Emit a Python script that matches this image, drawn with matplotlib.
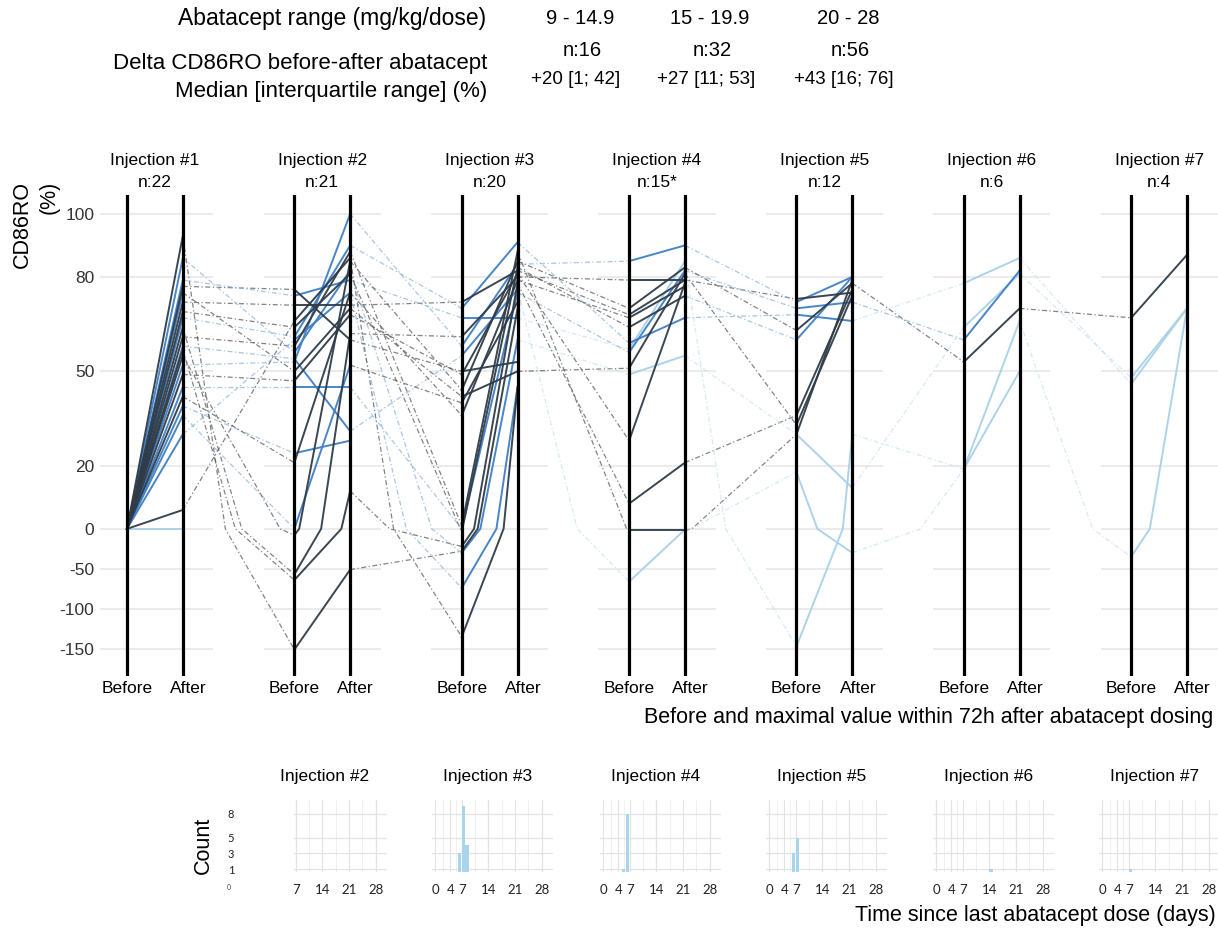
import numpy as np
import matplotlib.pyplot as plt

plt.rcParams['font.family'] = ['Liberation Sans', 'DejaVu Sans']

# header table
dose_ranges = ['9 - 14.9', '15 - 19.9', '20 - 28']
group_n = ['n:16', 'n:32', 'n:56']
group_delta = ['+20 [1; 42]', '+27 [11; 53]', '+43 [16; 76]']

# groups: 0 = 9-14.9, 1 = 15-19.9, 2 = 20-28 mg/kg/dose
inj_labels = ['Injection #1', 'Injection #2', 'Injection #3', 'Injection #4',
              'Injection #5', 'Injection #6', 'Injection #7']
inj_n = ['n:22', 'n:21', 'n:20', 'n:15*', 'n:12', 'n:6', 'n:4']

inj1_before = [0, 0, 0, 0, 0, 0, 0, 0, 0, 0, 0, 0, 0, 0, 0, 0, 0, 0, 0, 0, 0, 0]
inj1_after = [93, 86, 79, 77, 75, 72, 69, 67, 64, 61, 58, 57, 55, 52, 49, 45, 42, 39, 36, 30, 6, 0]
inj1_group = [2, 1, 1, 2, 1, 2, 2, 1, 2, 2, 1, 2, 2, 1, 2, 1, 2, 1, 1, 1, 2, 0]

inj2_before = [53, 61, 58, 76, 74, 71, 64, 47, 45, 54, 24, 21, 0, -8, -57, -64, -151, 56, 66, 50, 60]
inj2_after = [100, 90, 88, 60, 79, 71, 81, 68, 45, 31, 28, 75, 52, 85, 62, 12, -51, 82, 86, 70, 75]
inj2_group = [1, 1, 2, 2, 1, 2, 2, 2, 1, 1, 1, 2, 1, 2, 2, 2, 2, 1, 2, 2, 1]
inj2_prev = [13, 7, 9, 3, 2, 5, 6, 14, 15, 10, 17, 16, 18, 12, 8, 11, 0, 1, 20, 4, 19]

inj3_before = [70, 72, 67, 61, 58, 55, 50, 49, 42, 36, 1, 0, -1, -22, -28, -30, -74, -135, 44, 40]
inj3_after = [91, 82, 67, 80, 84, 76, 53, 81, 50, 79, 88, 75, 83, 78, 70, 60, 45, 45, 85, 72]
inj3_group = [1, 2, 1, 2, 1, 1, 2, 2, 2, 2, 2, 1, 2, 2, 2, 1, 1, 2, 2, 2]
inj3_prev = [1, 5, 4, 14, 0, 9, 3, 7, 19, 11, 2, 8, 6, 15, 16, 17, 20, 18, 13, 12]

inj4_before = [85, 79, 68, 67, 64, 59, 57, 56, 51, 49, 28, 8, -2, -66, 70]
inj4_after = [90, 79, 79, 77, 74, 67, 85, 82, 81, 55, 78, 21, -2, -1, 83]
inj4_group = [1, 2, 2, 2, 2, 1, 0, 1, 2, 0, 2, 2, 2, 0, 2]
inj4_prev = [4, 3, 1, 9, 12, 0, 2, 11, 8, 15, 7, 13, 10, 5, 18]

inj5_before = [73, 72, 70, 68, 63, 60, 36, 30, 30, 18, -147, 33]
inj5_after = [75, 80, 72, 66, 78, 80, 76, 79, 13, -30, 30, 74]
inj5_group = [2, 1, 1, 1, 2, 1, 2, 2, 0, 0, 0, 2]
inj5_prev = [1, 0, 7, 5, 14, 4, 11, 12, 9, 13, 6, 8]

inj6_before = [78, 60, 64, 53, 19, 19]
inj6_after = [86, 82, 81, 70, 66, 50]
inj6_group = [0, 1, 0, 2, 0, 0]
inj6_prev = [3, 2, 8, 4, 9, 10]

inj7_before = [67, 48, 46, -35]
inj7_after = [87, 70, 70, 70]
inj7_group = [2, 0, 0, 0]
inj7_prev = [3, 2, 0, 4]

y_ticks = [-150, -100, -50, 0, 20, 50, 80, 100]

# time since last dose histograms (injection 2..7)
hist_labels = ['Injection #2', 'Injection #3', 'Injection #4',
               'Injection #5', 'Injection #6', 'Injection #7']
hist2_days, hist2_counts = [], []
hist3_days, hist3_counts = [6, 7, 8], [3, 9, 4]
hist4_days, hist4_counts = [5, 6], [1, 8]
hist5_days, hist5_counts = [6, 7], [3, 5]
hist6_days, hist6_counts = [14], [1]
hist7_days, hist7_counts = [7], [1]
count_ticks = [1, 3, 5, 8]

befores = [inj1_before, inj2_before, inj3_before, inj4_before, inj5_before, inj6_before, inj7_before]
afters = [inj1_after, inj2_after, inj3_after, inj4_after, inj5_after, inj6_after, inj7_after]
groups = [inj1_group, inj2_group, inj3_group, inj4_group, inj5_group, inj6_group, inj7_group]
prevs = [None, inj2_prev, inj3_prev, inj4_prev, inj5_prev, inj6_prev, inj7_prev]

solid_col = {0: '#a9d1e8', 1: '#3f7fc4', 2: '#2f3c48'}
dash_col = {0: '#c4e0f0', 1: '#8db3da', 2: '#5a5a5a'}
dash_alpha = {0: 0.7, 1: 0.75, 2: 0.75}

W, H = 1218, 933
NEG = 0.8 / 3.15


def fwd(y):
    y = np.asarray(y, float)
    return np.where(y >= 0, y, y * NEG)


def inv(u):
    u = np.asarray(u, float)
    return np.where(u >= 0, u, u / NEG)


def seg(x0, y0, x1, y1):
    # split at 0 like a transformed coordinate system would
    xs, ys = [x0], [y0]
    if y0 * y1 < 0:
        t = y0 / (y0 - y1)
        xs.append(x0 + t * (x1 - x0))
        ys.append(0)
    xs.append(x1)
    ys.append(y1)
    return xs, ys


def fbox(l, t, r, b):
    return [l / W, 1 - b / H, (r - l) / W, (b - t) / H]


fig = plt.figure(figsize=(W / 100, H / 100), dpi=100)
ax = fig.add_axes(fbox(100, 195, 1218, 676))
ax.set_yscale('function', functions=(fwd, inv))
ax.set_ylim(-184, 106)
ax.set_xlim(-0.484, 19.556)

for k in range(7):
    xb, xa = 3 * k, 3 * k + 1
    ax.hlines(y_ticks, xb - 0.55, xa + 0.55, color='#ebebeb', lw=1.5, zorder=0)
    ax.axvline(xb, color='black', lw=2.3, zorder=5)
    ax.axvline(xa, color='black', lw=2.3, zorder=5)
    ax.text(xb + 0.5, 1.0707, inj_labels[k], transform=ax.get_xaxis_transform(),
            ha='center', va='center', fontsize=12.5)
    ax.text(xb + 0.5, 1.025, inj_n[k], transform=ax.get_xaxis_transform(),
            ha='center', va='center', fontsize=12.5)
    ax.text(xb, -0.026, 'Before', transform=ax.get_xaxis_transform(),
            ha='center', va='center', fontsize=12.5)
    ax.text(xa + 0.1, -0.026, 'After', transform=ax.get_xaxis_transform(),
            ha='center', va='center', fontsize=12.5)

    # links from previous injection
    if prevs[k] is not None:
        for j, p in enumerate(prevs[k]):
            g = groups[k][j]
            xs, ys = seg(xb - 2, afters[k - 1][p], xb, befores[k][j])
            ax.plot(xs, ys, color=dash_col[g], alpha=dash_alpha[g], lw=0.9,
                    ls=(0, (4, 2, 1, 2)), zorder=1)

for k in range(7):
    xb, xa = 3 * k, 3 * k + 1
    order = np.argsort(groups[k])
    for j in order:
        g = groups[k][j]
        xs, ys = seg(xb, befores[k][j], xa, afters[k][j])
        ax.plot(xs, ys, color=solid_col[g], lw=1.4, alpha=0.95, zorder=2 + g * 0.1)

ax.set_yticks(y_ticks)
ax.set_yticklabels([str(t) for t in y_ticks])
ax.set_xticks([])
ax.tick_params(axis='y', length=0, pad=4, labelsize=12.5, labelcolor='#333333')
for s in ax.spines.values():
    s.set_visible(False)

fig.text(36 / W, 1 - 224 / H, 'CD86RO\n(%)', rotation=90, ha='center', va='center',
         multialignment='right', fontsize=15.5, linespacing=1.35)
fig.text(1213 / W, 1 - 718 / H, 'Before and maximal value within 72h after abatacept dosing',
         ha='right', va='center', fontsize=15.5)

# header
fig.text(486 / W, 1 - 18 / H, 'Abatacept range (mg/kg/dose)', ha='right', va='center', fontsize=16.5)
fig.text(487 / W, 1 - 64 / H, 'Delta CD86RO before-after abatacept', ha='right', va='center', fontsize=16)
fig.text(487 / W, 1 - 91 / H, 'Median [interquartile range] (%)', ha='right', va='center', fontsize=16)
for cx, rng, n, d in zip([580, 710, 848], dose_ranges, group_n, group_delta):
    fig.text(cx / W, 1 - 18 / H, rng, ha='center', va='center', fontsize=14.5)
    fig.text((cx + 2) / W, 1 - 50 / H, n, ha='center', va='center', fontsize=14.5)
    fig.text((cx - 4) / W, 1 - 80 / H, d, ha='center', va='center', fontsize=13.5)

# histograms
hist_days = [hist2_days, hist3_days, hist4_days, hist5_days, hist6_days, hist7_days]
hist_counts = [hist2_counts, hist3_counts, hist4_counts, hist5_counts, hist6_counts, hist7_counts]
hist_left = [294, 432, 600, 766, 933, 1099]
for i in range(6):
    if i == 0:
        hax = fig.add_axes(fbox(294, 800, 387, 872))
        hax.set_xlim(6.5, 31)
        majors = [7, 14, 21, 28]
        minors = [10.5, 17.5, 24.5]
        tx = 0.33
    else:
        l = hist_left[i]
        hax = fig.add_axes(fbox(l, 800, l + 121, 872))
        hax.set_xlim(-0.8, 31)
        majors = [0, 4, 7, 14, 21, 28]
        minors = [2, 5.5, 10.5, 17.5, 24.5]
        tx = 0.46
    hax.set_ylim(0.65, 9.75)
    for m in majors:
        hax.axvline(m, color='#e3e3e3', lw=0.9, zorder=0)
    for m in minors:
        hax.axvline(m, color='#ececec', lw=0.6, zorder=0)
    for c in count_ticks:
        hax.axhline(c, color='#e3e3e3', lw=0.9, zorder=0)
    if hist_days[i]:
        hax.bar(hist_days[i], hist_counts[i], width=0.9, align='edge',
                color='#a8d5ec', zorder=2)
    hax.set_xticks(majors)
    hax.set_xticklabels([str(m) for m in majors], family=['Lato', 'DejaVu Sans'])
    hax.tick_params(axis='x', length=0, pad=9, labelsize=9.5, labelcolor='#222222')
    if i == 0:
        hax.set_yticks(count_ticks)
        hax.set_yticklabels([str(c) for c in count_ticks], family=['Lato', 'DejaVu Sans'])
        hax.tick_params(axis='y', length=0, pad=43, labelsize=8, labelcolor='#222222')
    else:
        hax.set_yticks([])
    for s in hax.spines.values():
        s.set_visible(False)
    hax.text(tx, 1.33, hist_labels[i], transform=hax.transAxes, ha='center',
             va='center', fontsize=12.5)

fig.text(229 / W, 1 - 887 / H, '0', ha='center', va='center', fontsize=5,
         family=['Lato', 'DejaVu Sans'], color='#444444')
fig.text(203 / W, 1 - 845 / H, 'Count', rotation=90, ha='center', va='center', fontsize=15.5)
fig.text(1216 / W, 1 - 916 / H, 'Time since last abatacept dose (days)',
         ha='right', va='center', fontsize=15.5)

fig.savefig('out.png', dpi=100)
